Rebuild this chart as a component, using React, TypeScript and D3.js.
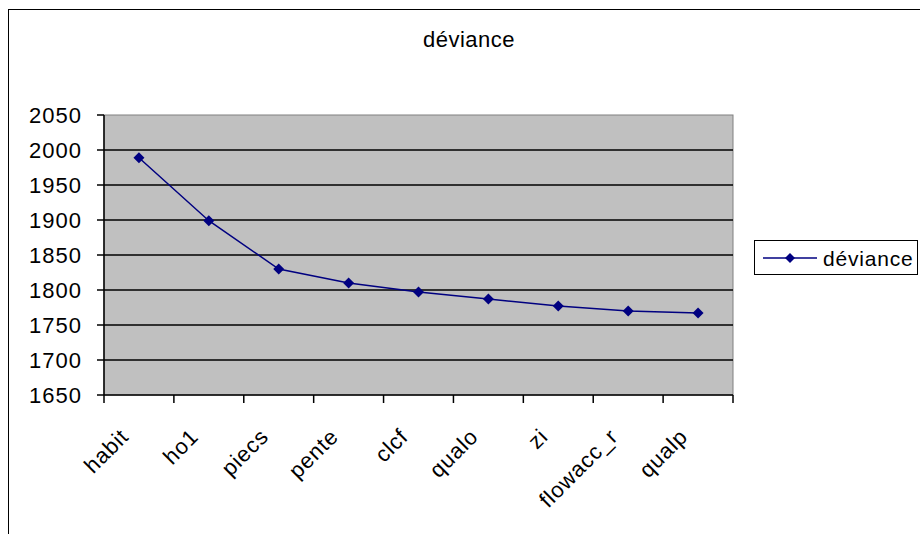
import React from "react";
import * as d3 from "d3";

const categories = ["habit", "ho1", "piecs", "pente", "clcf", "qualo", "zi", "flowacc_r", "qualp"];
const deviance = [1989, 1899, 1830, 1810, 1797, 1787, 1777, 1770, 1767];
const yTicks = [1650, 1700, 1750, 1800, 1850, 1900, 1950, 2000, 2050];
const seriesName = "déviance";
const title = "déviance";

const W = 920;
const H = 534;
const plot = { left: 104, top: 115, right: 733, bottom: 395 };
const FONT = "'Liberation Sans', Arial, sans-serif";

export default function App() {
  const x = d3.scaleBand<string>().domain(categories).range([plot.left, plot.right]);
  const y = d3.scaleLinear().domain([1650, 2050]).range([plot.bottom, plot.top]);
  const cx = (c: string) => (x(c) as number) + x.bandwidth() / 2;
  const line = d3
    .line<number>()
    .x((_, i) => cx(categories[i]))
    .y((d) => y(d));
  const diamond = (px: number, py: number, r: number) =>
    `M${px},${py - r}L${px + r},${py}L${px},${py + r}L${px - r},${py}Z`;
  const edges = categories.map((c) => x(c) as number).concat([plot.right]);

  return (
    <svg width={W} height={H} style={{ position: "absolute", left: 0, top: 0, background: "#fff" }}>
      <rect x={8.5} y={9.5} width={W + 20} height={H + 20} fill="#fff" stroke="#000" strokeWidth={1} />
      <text x={469} y={47} textAnchor="middle" fontFamily={FONT} fontSize={22} letterSpacing={0.5} fill="#000">
        {title}
      </text>
      <rect
        x={plot.left}
        y={plot.top}
        width={plot.right - plot.left}
        height={plot.bottom - plot.top}
        fill="#c0c0c0"
        stroke="#808080"
        strokeWidth={1}
      />
      {yTicks
        .filter((t) => t !== 1650 && t !== 2050)
        .map((t) => (
          <line key={"g" + t} x1={plot.left} x2={plot.right} y1={y(t)} y2={y(t)} stroke="#000" strokeWidth={1.5} />
        ))}
      {yTicks.map((t) => (
        <g key={"yt" + t}>
          <line x1={plot.left - 7} x2={plot.left} y1={y(t)} y2={y(t)} stroke="#000" strokeWidth={1.5} />
          <text
            x={82}
            y={y(t)}
            dy="0.36em"
            textAnchor="end"
            fontFamily={FONT}
            fontSize={22}
            letterSpacing={1}
            fill="#000"
          >
            {t}
          </text>
        </g>
      ))}
      <line x1={plot.left} x2={plot.left} y1={plot.top} y2={plot.bottom} stroke="#000" strokeWidth={1.5} />
      <line x1={plot.left} x2={plot.right} y1={plot.bottom} y2={plot.bottom} stroke="#000" strokeWidth={1.5} />
      {edges.map((e, i) => (
        <line key={"xt" + i} x1={e} x2={e} y1={plot.bottom} y2={plot.bottom + 8} stroke="#000" strokeWidth={1.5} />
      ))}
      {categories.map((c) => (
        <text
          key={"xl" + c}
          transform={`translate(${cx(c) - 9},${plot.bottom + 43}) rotate(-45)`}
          textAnchor="end"
          fontFamily={FONT}
          fontSize={22}
          letterSpacing={0.8}
          fill="#000"
        >
          {c}
        </text>
      ))}
      <path d={line(deviance) || ""} fill="none" stroke="#000080" strokeWidth={1.5} />
      {deviance.map((v, i) => (
        <path key={"m" + i} d={diamond(cx(categories[i]), y(v), 5.5)} fill="#000080" />
      ))}
      <rect x={754.5} y={240.5} width={163} height={34} fill="#fff" stroke="#000" strokeWidth={1} />
      <line x1={763} x2={817} y1={258} y2={258} stroke="#000080" strokeWidth={1.5} />
      <path d={diamond(790, 258, 5)} fill="#000080" />
      <text x={823} y={258} dy="0.36em" fontFamily={FONT} fontSize={21} letterSpacing={0.8} fill="#000">
        {seriesName}
      </text>
    </svg>
  );
}
